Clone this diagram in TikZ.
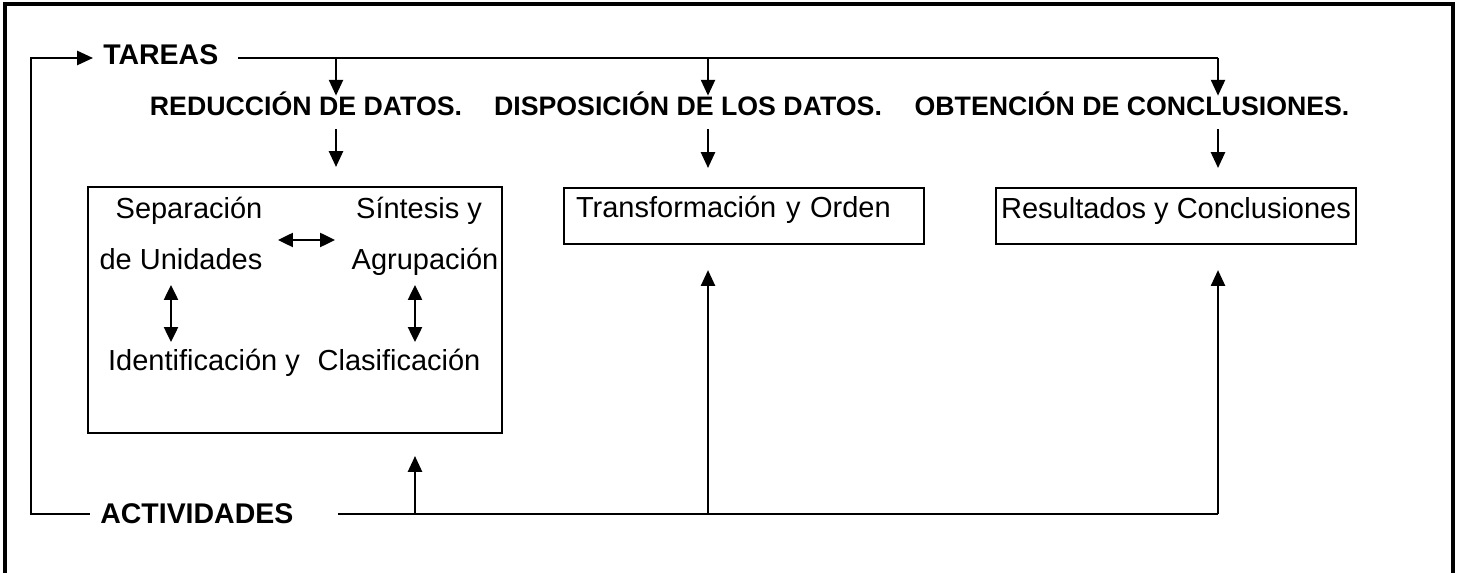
\documentclass[tikz,border=0pt]{standalone}
\usepackage{fontspec}
\setmainfont{Liberation Sans}
\usetikzlibrary{arrows.meta}
\newcommand{\tx}{\fontsize{16.5}{20}\selectfont}
\newcommand{\hd}{\fontsize{15.2}{18}\selectfont\bfseries}
\newcommand{\hb}{\fontsize{16.2}{19}\selectfont\bfseries}

\begin{document}
\begin{tikzpicture}[x=0.02cm,y=-0.02cm,
   ln/.style={line width=1.2pt},
   arr/.style={line width=1.2pt,-{Triangle[width=8pt,length=9pt]}},
   dbl/.style={line width=1.2pt,{Triangle[width=8pt,length=8.5pt]}-{Triangle[width=8pt,length=8.5pt]}},
   head/.style={font=\hd,inner xsep=0.2cm,inner ysep=0pt,text height=0.4cm,text depth=0.26cm},
   txt/.style={font=\tx,inner sep=0pt},
   box/.style={draw,line width=1.2pt,font=\tx,inner ysep=0pt}]
   \useasboundingbox (0,0) rectangle (1459,573);
   \draw[line width=1.8pt] (5,580) -- (5,4) -- (1453,4) -- (1453,580);
   \node[head,font=\hb,anchor=base west,text depth=0.12cm] (tareas) at (93,65) {TAREAS};
   \node[head,font=\hb,anchor=base west,text depth=0.04cm] (act) at (90,523) {ACTIVIDADES};
   \node[head,anchor=base] (red) at (306,116) {REDUCCIÓN DE DATOS.};
   \node[head,anchor=base] (dis) at (688,116) {DISPOSICIÓN DE LOS DATOS.};
   \node[head,anchor=base] (obt) at (1132,116) {OBTENCIÓN DE CONCLUSIONES.};
   \node[box,minimum width=8.28cm,minimum height=4.92cm,inner sep=0pt] (box1) at (295,310) {};
   \node[box,anchor=north west,text width=6.72cm,inner xsep=0.24cm,align=left,
         text height=0.58cm,text depth=0.54cm] (box2) at (563,187) {Transformación y Orden};
   \node[box,anchor=north west,minimum width=7.2cm,inner xsep=0.06cm,
         text height=0.6cm,text depth=0.52cm] (box3) at (995,187) {Resultados y Conclusiones};
   \node[txt,anchor=base] (sep) at (189,219) {Separación};
   \node[txt,anchor=base] (uni) at (181,270) {de Unidades};
   \node[txt,anchor=base] (sin) at (419,219) {Síntesis y};
   \node[txt,anchor=base] (agr) at (425,270) {Agrupación};
   \node[txt,anchor=base] (ide) at (204,371) {Identificación y};
   \node[txt,anchor=base] (cla) at (399,371) {Clasificación};
   \coordinate (loop) at (31,300);
   \coordinate (t0) at (238,58);
   \coordinate (t1) at (336,58);
   \coordinate (t2) at (708,58);
   \coordinate (t3) at (1218,58);
   \coordinate (a0) at (338,514);
   \coordinate (a1) at (415,514);
   \coordinate (a2) at (708,514);
   \coordinate (a3) at (1218,514);
   \coordinate (h0) at (278,240);
   \coordinate (h1) at (335,240);
   \coordinate (v0) at (171,285);
   \coordinate (v1) at (171,342);
   \coordinate (w0) at (415,285);
   \coordinate (w1) at (415,342);
   \draw[arr] (act.west) -| (loop) |- (tareas.west);
   \draw[ln] (t0) -- (t3);
   \draw[ln] (a0) -- (a3);
   \draw[arr] (t1) -- (t1 |- red.north);
   \draw[arr] (t2) -- (t2 |- dis.north);
   \draw[arr] (t3) -- (t3 |- obt.north);
   \draw[arr,shorten >=0.38cm] (t1 |- red.south) -- (t1 |- box1.north);
   \draw[arr,shorten >=0.38cm] (t2 |- dis.south) -- (t2 |- box2.north);
   \draw[arr,shorten >=0.38cm] (t3 |- obt.south) -- (t3 |- box3.north);
   \draw[arr,shorten >=0.44cm] (a1) -- (a1 |- box1.south);
   \draw[arr,shorten >=0.5cm] (a2) -- (a2 |- box2.south);
   \draw[arr,shorten >=0.5cm] (a3) -- (a3 |- box3.south);
   \draw[dbl] (h0) -- (h1);
   \draw[dbl] (v0) -- (v1);
   \draw[dbl] (w0) -- (w1);
\end{tikzpicture}
\end{document}
